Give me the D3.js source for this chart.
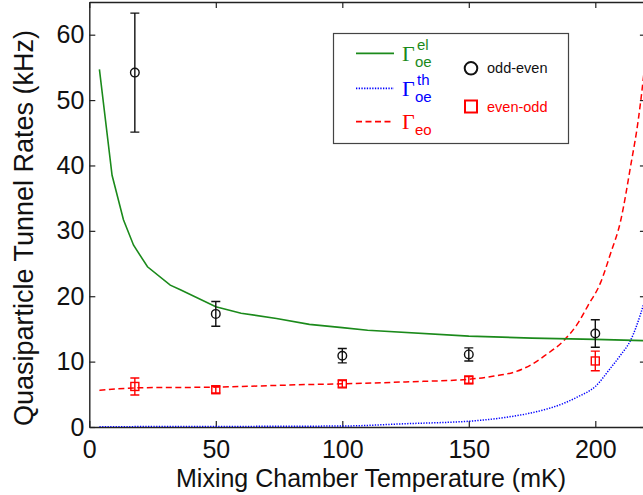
<!DOCTYPE html>
<html>
<head>
<meta charset="utf-8">
<script src="https://cdn.jsdelivr.net/npm/d3@7"></script>
<style>
    body { margin: 0; background: #fff; }
    svg { display: block; font-family: Arial, "Liberation Sans", sans-serif; }
</style>
</head>
<body>
<svg width="643" height="495"></svg>
<script>
// measured temperatures (mK) and rates (kHz)
const pointTemps = [18, 50, 100, 150, 200];
const oddEven = [54.2, 17.3, 10.9, 11.1, 14.3];
const oddEvenErr = [9.1, 1.9, 1.1, 1.0, 2.1];
const evenOdd = [6.2, 5.7, 6.6, 7.2, 10.1];
const evenOddErr = [1.3, 0.5, 0.5, 0.5, 1.5];

// theory curves
const elTemps = [4, 9, 13.5, 17.5, 23, 32, 36, 50, 60, 74, 87, 100, 110, 150, 175, 200, 220];
const elRates = [54.7, 38.5, 31.7, 27.8, 24.5, 21.7, 21.0, 18.4, 17.4, 16.6, 15.7, 15.2, 14.8, 13.9, 13.6, 13.4, 13.2];

const thTemps = [4, 100, 125, 154, 165, 174, 188, 193, 200, 206, 210, 214, 218, 220];
const thRates = [0.05, 0.15, 0.5, 1.0, 1.5, 2.1, 3.7, 4.6, 6.2, 9.0, 11.0, 13.3, 17.4, 20.0];

const eoTemps = [4, 20, 50, 87, 100, 125, 150, 160, 168, 175, 180, 188, 193, 197, 202, 206, 210, 214, 217, 218, 220];
const eoRates = [5.6, 6.0, 6.1, 6.5, 6.6, 6.9, 7.3, 7.8, 8.4, 9.6, 10.9, 13.4, 15.8, 18.5, 22.0, 26.5, 31.5, 40.0, 47.0, 50.0, 57.0];

const xTicks = [0, 50, 100, 150, 200];
const yTicks = [0, 10, 20, 30, 40, 50, 60];

const green = "#1b8a1b";
const blue = "#0000ff";
const red = "#ff0000";

const svg = d3.select("svg");

const x = d3.scaleLinear().domain([0, 220]).range([89.3, 645.9]);
const y = d3.scaleLinear().domain([0, 65]).range([427, 2]);

const zip = (xs, ys) => xs.map((t, i) => [t, ys[i]]);

svg.append("clipPath").attr("id", "plot-clip")
    .append("rect")
    .attr("x", x(0)).attr("y", y(65))
    .attr("width", x(220) - x(0)).attr("height", y(0) - y(65));

// frame ticks (inward, all four sides)
const tickLen = 6;
const axisColor = "#222";

const xAxisB = svg.append("g")
    .attr("transform", `translate(0,${y(0)})`)
    .call(d3.axisBottom(x).tickValues(xTicks).tickSize(-tickLen).tickPadding(13).tickSizeOuter(0));
const xAxisT = svg.append("g")
    .attr("transform", `translate(0,${y(65)})`)
    .call(d3.axisTop(x).tickValues(xTicks).tickSize(-tickLen).tickFormat("").tickSizeOuter(0));
const yAxisL = svg.append("g")
    .attr("transform", `translate(${x(0)},0)`)
    .call(d3.axisLeft(y).tickValues(yTicks).tickSize(-tickLen).tickPadding(5).tickSizeOuter(0));
const yAxisR = svg.append("g")
    .attr("transform", `translate(${x(220)},0)`)
    .call(d3.axisRight(y).tickValues(yTicks).tickSize(-tickLen).tickFormat("").tickSizeOuter(0));

[xAxisB, xAxisT, yAxisL, yAxisR].forEach((g) => {
    g.select(".domain").attr("stroke", axisColor).attr("stroke-width", 1.4);
    g.selectAll(".tick line").attr("stroke", axisColor).attr("stroke-width", 1.2);
    g.selectAll(".tick text")
        .attr("fill", "#111")
        .style("font-size", "25px")
        .style("font-family", "Arial, 'Liberation Sans', sans-serif");
});

// axis titles
svg.append("text")
    .attr("x", 371)
    .attr("y", 487)
    .attr("text-anchor", "middle")
    .style("font-size", "25px")
    .attr("fill", "#111")
    .text("Mixing Chamber Temperature (mK)");

svg.append("text")
    .attr("transform", "translate(33,228) rotate(-90)")
    .attr("text-anchor", "middle")
    .style("font-size", "27px")
    .attr("fill", "#111")
    .text("Quasiparticle Tunnel Rates (kHz)");

// curves
const line = d3.line().x((d) => x(d[0])).y((d) => y(d[1]));
const smoothLine = d3.line().x((d) => x(d[0])).y((d) => y(d[1])).curve(d3.curveMonotoneX);
const curves = svg.append("g").attr("clip-path", "url(#plot-clip)");

curves.append("path")
    .datum(zip(thTemps, thRates))
    .attr("d", smoothLine)
    .attr("fill", "none")
    .attr("stroke", blue)
    .attr("stroke-width", 1.5)
    .attr("stroke-dasharray", "1.3,1.4");

curves.append("path")
    .datum(zip(eoTemps, eoRates))
    .attr("d", smoothLine)
    .attr("fill", "none")
    .attr("stroke", red)
    .attr("stroke-width", 1.5)
    .attr("stroke-dasharray", "6,3.5");

curves.append("path")
    .datum(zip(elTemps, elRates))
    .attr("d", line)
    .attr("fill", "none")
    .attr("stroke", green)
    .attr("stroke-width", 1.6);

// error bars with markers
const drawErrorBars = (vals, errs, color, marker) => {
    const g = svg.append("g");
    const pts = pointTemps.map((t, i) => ({t, v: vals[i], e: errs[i]}));
    const capW = 4.5;

    g.selectAll("path.err")
        .data(pts)
        .enter().append("path")
        .attr("class", "err")
        .attr("d", (d) => {
            const cx = x(d.t), y1 = y(d.v + d.e), y2 = y(d.v - d.e);
            return `M${cx},${y1}V${y2}M${cx - capW},${y1}H${cx + capW}M${cx - capW},${y2}H${cx + capW}`;
        })
        .attr("fill", "none")
        .attr("stroke", color)
        .attr("stroke-width", 1.4);

    if (marker === "circle") {
        g.selectAll("circle")
            .data(pts)
            .enter().append("circle")
            .attr("cx", (d) => x(d.t))
            .attr("cy", (d) => y(d.v))
            .attr("r", 4.3)
            .attr("fill", "none")
            .attr("stroke", color)
            .attr("stroke-width", 1.4);
    } else {
        g.selectAll("rect")
            .data(pts)
            .enter().append("rect")
            .attr("x", (d) => x(d.t) - 4)
            .attr("y", (d) => y(d.v) - 4)
            .attr("width", 8)
            .attr("height", 8)
            .attr("fill", "none")
            .attr("stroke", color)
            .attr("stroke-width", 1.4);
    }
};

drawErrorBars(oddEven, oddEvenErr, "#111", "circle");
drawErrorBars(evenOdd, evenOddErr, red, "square");

// legend
const legend = svg.append("g");
legend.append("rect")
    .attr("x", 333.5).attr("y", 33.5)
    .attr("width", 235).attr("height", 110)
    .attr("fill", "#fff")
    .attr("stroke", "#444")
    .attr("stroke-width", 1.2);

const legendLines = [
    {y: 53.3, color: green, dash: null, sup: "el", sub: "oe"},
    {y: 88.3, color: blue, dash: "1.3,1.4", sup: "th", sub: "oe"},
    {y: 121.7, color: red, dash: "6,3.5", sup: null, sub: "eo"}
];

legendLines.forEach((d) => {
    legend.append("line")
        .attr("x1", 356).attr("x2", 394)
        .attr("y1", d.y).attr("y2", d.y)
        .attr("stroke", d.color)
        .attr("stroke-width", 1.8)
        .attr("stroke-dasharray", d.dash);

    legend.append("text")
        .attr("x", 402)
        .attr("y", d.y + 7.5)
        .attr("fill", d.color)
        .style("font-family", "'Liberation Serif', 'Times New Roman', serif")
        .style("font-size", "22px")
        .text("Γ");

    if (d.sup) {
        legend.append("text")
            .attr("x", 417)
            .attr("y", d.y - 3)
            .attr("fill", d.color)
            .style("font-size", "15px")
            .text(d.sup);
    }
    legend.append("text")
        .attr("x", 415)
        .attr("y", d.y + 13.5)
        .attr("fill", d.color)
        .style("font-size", "15px")
        .text(d.sub);
});

legend.append("circle")
    .attr("cx", 471).attr("cy", 68.3).attr("r", 6.3)
    .attr("fill", "none").attr("stroke", "#111").attr("stroke-width", 2);
legend.append("text")
    .attr("x", 487).attr("y", 73.3)
    .attr("fill", "#111")
    .style("font-size", "14.5px")
    .text("odd-even");

legend.append("rect")
    .attr("x", 465).attr("y", 100.5).attr("width", 12).attr("height", 12)
    .attr("fill", "none").attr("stroke", red).attr("stroke-width", 2);
legend.append("text")
    .attr("x", 487).attr("y", 112)
    .attr("fill", red)
    .style("font-size", "14.5px")
    .text("even-odd");
</script>
</body>
</html>
